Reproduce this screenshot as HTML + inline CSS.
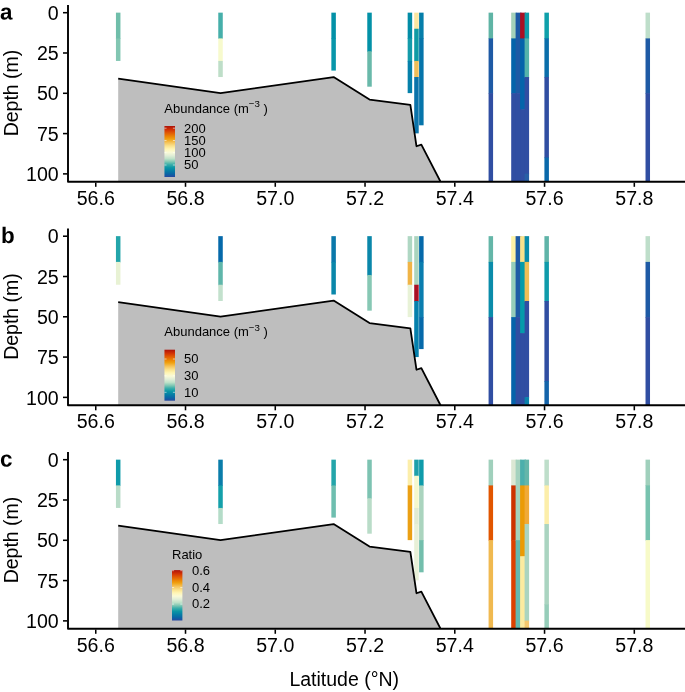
<!DOCTYPE html>
<html lang="en">
<head>
<meta charset="utf-8">
<title>Depth profiles by latitude</title>
<style>
html,body{margin:0;padding:0;background:#fff;}
svg{display:block;will-change:transform;}
text{font-family:"Liberation Sans",Arial,Helvetica,sans-serif;fill:#000;}
.ax{font-size:19.6px;}
.lg{font-size:13.0px;}
.pl{font-size:22.4px;font-weight:bold;}
</style>
</head>
<body>
<svg width="685" height="692" viewBox="0 0 685 692">
<defs>
<linearGradient id="cb" x1="0" y1="1" x2="0" y2="0">
<stop offset="0.000" stop-color="#2648a0"/>
<stop offset="0.056" stop-color="#0a64a5"/>
<stop offset="0.119" stop-color="#057da5"/>
<stop offset="0.183" stop-color="#0a96a5"/>
<stop offset="0.246" stop-color="#3cafaa"/>
<stop offset="0.300" stop-color="#82c8b4"/>
<stop offset="0.357" stop-color="#bee1c8"/>
<stop offset="0.420" stop-color="#e1eed7"/>
<stop offset="0.484" stop-color="#fafad7"/>
<stop offset="0.548" stop-color="#fff5b4"/>
<stop offset="0.611" stop-color="#fae18c"/>
<stop offset="0.675" stop-color="#f5c35a"/>
<stop offset="0.746" stop-color="#f0a00f"/>
<stop offset="0.800" stop-color="#eb8205"/>
<stop offset="0.865" stop-color="#e15a05"/>
<stop offset="0.929" stop-color="#d23205"/>
<stop offset="1.000" stop-color="#ac120a"/>
</linearGradient>
<clipPath id="cp0"><rect x="68.00" y="5.10" width="617.00" height="176.60"/></clipPath>
<clipPath id="cp1"><rect x="68.00" y="228.60" width="617.00" height="176.60"/></clipPath>
<clipPath id="cp2"><rect x="68.00" y="452.10" width="617.00" height="176.60"/></clipPath>
</defs>
<rect width="685" height="692" fill="#fff"/>
<g id="panel-a">
<g clip-path="url(#cp0)" shape-rendering="auto">
<rect x="115.94" y="12.65" width="4.50" height="26.35" fill="#70beaa"/>
<rect x="115.94" y="38.40" width="4.50" height="22.53" fill="#82c6b2"/>
<rect x="218.27" y="12.65" width="4.50" height="26.35" fill="#46afaa"/>
<rect x="218.27" y="38.40" width="4.50" height="23.13" fill="#f7facd"/>
<rect x="218.27" y="60.93" width="4.50" height="16.10" fill="#bedec8"/>
<rect x="331.36" y="12.65" width="4.50" height="26.35" fill="#0391a7"/>
<rect x="331.36" y="38.40" width="4.50" height="32.19" fill="#0896aa"/>
<rect x="367.27" y="12.65" width="4.50" height="39.23" fill="#0391a7"/>
<rect x="367.27" y="51.28" width="4.50" height="35.41" fill="#69b9aa"/>
<rect x="407.66" y="12.65" width="4.50" height="26.35" fill="#028ca6"/>
<rect x="407.66" y="38.40" width="4.50" height="23.13" fill="#149baa"/>
<rect x="407.66" y="60.93" width="4.50" height="32.19" fill="#0580aa"/>
<rect x="414.21" y="12.65" width="4.50" height="16.70" fill="#fae6a0"/>
<rect x="414.21" y="28.74" width="4.50" height="32.79" fill="#0f9ba5"/>
<rect x="414.21" y="60.93" width="4.50" height="16.70" fill="#f0be5a"/>
<rect x="414.21" y="77.03" width="4.50" height="56.33" fill="#0a73aa"/>
<rect x="419.10" y="12.65" width="4.50" height="26.35" fill="#057eaa"/>
<rect x="419.10" y="38.40" width="4.50" height="86.91" fill="#0574aa"/>
<rect x="488.58" y="12.65" width="4.50" height="26.35" fill="#5fb4a5"/>
<rect x="488.58" y="38.40" width="4.50" height="55.32" fill="#1e5aa5"/>
<rect x="488.58" y="93.12" width="4.50" height="112.66" fill="#304ea2"/>
<rect x="511.20" y="12.65" width="5.80" height="26.35" fill="#a5d2b9"/>
<rect x="511.20" y="38.40" width="5.80" height="55.32" fill="#0564aa"/>
<rect x="511.20" y="93.12" width="5.80" height="112.66" fill="#304ea2"/>
<rect x="515.60" y="12.65" width="5.90" height="81.07" fill="#1e5aa5"/>
<rect x="515.60" y="93.12" width="5.90" height="112.66" fill="#304ea2"/>
<rect x="520.10" y="12.65" width="5.90" height="26.35" fill="#aa0f23"/>
<rect x="520.10" y="38.40" width="5.90" height="71.42" fill="#0564aa"/>
<rect x="520.10" y="109.22" width="5.90" height="96.57" fill="#304ea2"/>
<rect x="524.60" y="12.65" width="4.50" height="26.35" fill="#0f9baa"/>
<rect x="524.60" y="38.40" width="4.50" height="39.23" fill="#55b4aa"/>
<rect x="524.60" y="77.03" width="4.50" height="97.17" fill="#304ea2"/>
<rect x="524.60" y="173.60" width="4.50" height="32.19" fill="#285fa5"/>
<rect x="544.41" y="12.65" width="4.50" height="26.35" fill="#0fa0aa"/>
<rect x="544.41" y="38.40" width="4.50" height="39.23" fill="#0a6eaa"/>
<rect x="544.41" y="77.03" width="4.50" height="81.07" fill="#304ea2"/>
<rect x="544.41" y="157.50" width="4.50" height="48.28" fill="#0a69aa"/>
<rect x="645.52" y="12.65" width="4.50" height="26.35" fill="#bedeca"/>
<rect x="645.52" y="38.40" width="4.50" height="55.32" fill="#1e5aa5"/>
<rect x="645.52" y="93.12" width="4.50" height="112.66" fill="#304ea2"/>
<polygon points="118.19,78.64 220.52,93.12 333.61,77.03 369.52,99.56 410.36,104.95 416.46,146.24 421.35,144.63 440.65,181.97 440.65,186.70 118.19,186.70" fill="#bebebe"/>
<polyline points="118.19,78.64 220.52,93.12 333.61,77.03 369.52,99.56 410.36,104.95 416.46,146.24 421.35,144.63 440.65,181.97" fill="none" stroke="#000" stroke-width="1.8" stroke-linejoin="round"/>
</g>
<polyline points="68.00,5.10 68.00,181.70 687.00,181.70" fill="none" stroke="#000" stroke-width="1.9" stroke-linejoin="round"/>
<line x1="63" y1="12.70" x2="67.2" y2="12.70" stroke="#000" stroke-width="1.55"/>
<text class="ax" x="58.7" y="19.90" text-anchor="end">0</text>
<line x1="63" y1="52.99" x2="67.2" y2="52.99" stroke="#000" stroke-width="1.55"/>
<text class="ax" x="58.7" y="60.19" text-anchor="end">25</text>
<line x1="63" y1="93.29" x2="67.2" y2="93.29" stroke="#000" stroke-width="1.55"/>
<text class="ax" x="58.7" y="100.49" text-anchor="end">50</text>
<line x1="63" y1="133.59" x2="67.2" y2="133.59" stroke="#000" stroke-width="1.55"/>
<text class="ax" x="58.7" y="140.78" text-anchor="end">75</text>
<line x1="63" y1="173.88" x2="67.2" y2="173.88" stroke="#000" stroke-width="1.55"/>
<text class="ax" x="58.7" y="181.08" text-anchor="end">100</text>
<line x1="95.75" y1="182.60" x2="95.75" y2="186.80" stroke="#000" stroke-width="1.55"/>
<text class="ax" x="95.75" y="204.80" text-anchor="middle">56.6</text>
<line x1="185.51" y1="182.60" x2="185.51" y2="186.80" stroke="#000" stroke-width="1.55"/>
<text class="ax" x="185.51" y="204.80" text-anchor="middle">56.8</text>
<line x1="275.27" y1="182.60" x2="275.27" y2="186.80" stroke="#000" stroke-width="1.55"/>
<text class="ax" x="275.27" y="204.80" text-anchor="middle">57.0</text>
<line x1="365.03" y1="182.60" x2="365.03" y2="186.80" stroke="#000" stroke-width="1.55"/>
<text class="ax" x="365.03" y="204.80" text-anchor="middle">57.2</text>
<line x1="454.79" y1="182.60" x2="454.79" y2="186.80" stroke="#000" stroke-width="1.55"/>
<text class="ax" x="454.79" y="204.80" text-anchor="middle">57.4</text>
<line x1="544.55" y1="182.60" x2="544.55" y2="186.80" stroke="#000" stroke-width="1.55"/>
<text class="ax" x="544.55" y="204.80" text-anchor="middle">57.6</text>
<line x1="634.31" y1="182.60" x2="634.31" y2="186.80" stroke="#000" stroke-width="1.55"/>
<text class="ax" x="634.31" y="204.80" text-anchor="middle">57.8</text>
<text class="ax" style="font-size:19.5px" transform="translate(18.2,93.00) rotate(-90)" text-anchor="middle">Depth (m)</text>
<text class="pl" transform="translate(0.00,19.55) rotate(0.03)">a</text>
<text class="lg" x="164.30" y="112.50">Abundance (m<tspan dy="-5.5" font-size="9.7">−3</tspan><tspan dy="5.5"> )</tspan></text>
<rect x="164.45" y="126.00" width="10.55" height="51.00" fill="url(#cb)"/>
<line x1="164.45" y1="128.20" x2="166.55" y2="128.20" stroke="#fff" stroke-opacity="0.8" stroke-width="0.7"/>
<line x1="172.90" y1="128.20" x2="175.00" y2="128.20" stroke="#fff" stroke-opacity="0.8" stroke-width="0.7"/>
<text class="lg" x="184.00" y="132.55">200</text>
<line x1="164.45" y1="140.50" x2="166.55" y2="140.50" stroke="#fff" stroke-opacity="0.8" stroke-width="0.7"/>
<line x1="172.90" y1="140.50" x2="175.00" y2="140.50" stroke="#fff" stroke-opacity="0.8" stroke-width="0.7"/>
<text class="lg" x="184.00" y="144.85">150</text>
<line x1="164.45" y1="152.70" x2="166.55" y2="152.70" stroke="#fff" stroke-opacity="0.8" stroke-width="0.7"/>
<line x1="172.90" y1="152.70" x2="175.00" y2="152.70" stroke="#fff" stroke-opacity="0.8" stroke-width="0.7"/>
<text class="lg" x="184.00" y="157.05">100</text>
<line x1="164.45" y1="165.00" x2="166.55" y2="165.00" stroke="#fff" stroke-opacity="0.8" stroke-width="0.7"/>
<line x1="172.90" y1="165.00" x2="175.00" y2="165.00" stroke="#fff" stroke-opacity="0.8" stroke-width="0.7"/>
<text class="lg" x="184.00" y="169.35">50</text>
</g>
<g id="panel-b">
<g clip-path="url(#cp1)" shape-rendering="auto">
<rect x="115.94" y="236.15" width="4.50" height="26.35" fill="#23a5aa"/>
<rect x="115.94" y="261.90" width="4.50" height="22.83" fill="#e8f2d4"/>
<rect x="218.27" y="236.15" width="4.50" height="26.35" fill="#0569aa"/>
<rect x="218.27" y="261.90" width="4.50" height="23.43" fill="#5fb6aa"/>
<rect x="218.27" y="284.74" width="4.50" height="16.26" fill="#c3e1cd"/>
<rect x="331.36" y="236.15" width="4.50" height="26.35" fill="#0a78aa"/>
<rect x="331.36" y="261.90" width="4.50" height="32.59" fill="#0a87aa"/>
<rect x="367.27" y="236.15" width="4.50" height="39.43" fill="#0a87aa"/>
<rect x="367.27" y="274.98" width="4.50" height="35.68" fill="#87c8b4"/>
<rect x="407.66" y="236.15" width="4.50" height="26.35" fill="#afd7c3"/>
<rect x="407.66" y="261.90" width="4.50" height="23.43" fill="#f0b446"/>
<rect x="407.66" y="284.74" width="4.50" height="32.36" fill="#e8f2d7"/>
<rect x="414.21" y="236.15" width="4.50" height="49.19" fill="#aad4be"/>
<rect x="414.21" y="284.74" width="4.50" height="16.86" fill="#aa0f23"/>
<rect x="414.21" y="301.00" width="4.50" height="56.06" fill="#0580ac"/>
<rect x="419.10" y="236.15" width="4.50" height="26.35" fill="#0569aa"/>
<rect x="419.10" y="261.90" width="4.50" height="55.79" fill="#0a7daf"/>
<rect x="419.10" y="317.10" width="4.50" height="31.99" fill="#0569aa"/>
<rect x="488.58" y="236.15" width="4.50" height="26.35" fill="#64b6a8"/>
<rect x="488.58" y="261.90" width="4.50" height="55.79" fill="#0a8caa"/>
<rect x="488.58" y="317.10" width="4.50" height="112.19" fill="#304ea2"/>
<rect x="511.20" y="236.15" width="5.80" height="26.35" fill="#fdf3a5"/>
<rect x="511.20" y="261.90" width="5.80" height="55.79" fill="#96cdb9"/>
<rect x="511.20" y="317.10" width="5.80" height="112.19" fill="#0564aa"/>
<rect x="515.60" y="236.15" width="5.90" height="81.55" fill="#1e5aa5"/>
<rect x="515.60" y="317.10" width="5.90" height="112.19" fill="#304ea2"/>
<rect x="520.10" y="236.15" width="5.90" height="26.35" fill="#fae18c"/>
<rect x="520.10" y="261.90" width="5.90" height="71.82" fill="#059baa"/>
<rect x="520.10" y="333.12" width="5.90" height="96.17" fill="#304ea2"/>
<rect x="524.60" y="236.15" width="4.50" height="26.35" fill="#0a8caa"/>
<rect x="524.60" y="261.90" width="4.50" height="39.70" fill="#f0be55"/>
<rect x="524.60" y="301.00" width="4.50" height="96.70" fill="#304ea2"/>
<rect x="524.60" y="397.10" width="4.50" height="32.19" fill="#0a82aa"/>
<rect x="544.41" y="236.15" width="4.50" height="26.35" fill="#5fb4a8"/>
<rect x="544.41" y="261.90" width="4.50" height="39.70" fill="#0f9baa"/>
<rect x="544.41" y="301.00" width="4.50" height="80.60" fill="#304ea2"/>
<rect x="544.41" y="381.00" width="4.50" height="48.28" fill="#1464aa"/>
<rect x="645.52" y="236.15" width="4.50" height="26.35" fill="#bedeca"/>
<rect x="645.52" y="261.90" width="4.50" height="55.79" fill="#1e5aa5"/>
<rect x="645.52" y="317.10" width="4.50" height="112.19" fill="#304ea2"/>
<polygon points="118.19,302.14 220.52,316.62 333.61,300.53 369.52,323.06 410.36,328.45 416.46,369.74 421.35,368.13 440.65,405.47 440.65,410.20 118.19,410.20" fill="#bebebe"/>
<polyline points="118.19,302.14 220.52,316.62 333.61,300.53 369.52,323.06 410.36,328.45 416.46,369.74 421.35,368.13 440.65,405.47" fill="none" stroke="#000" stroke-width="1.8" stroke-linejoin="round"/>
</g>
<polyline points="68.00,228.60 68.00,405.20 687.00,405.20" fill="none" stroke="#000" stroke-width="1.9" stroke-linejoin="round"/>
<line x1="63" y1="236.20" x2="67.2" y2="236.20" stroke="#000" stroke-width="1.55"/>
<text class="ax" x="58.7" y="243.40" text-anchor="end">0</text>
<line x1="63" y1="276.50" x2="67.2" y2="276.50" stroke="#000" stroke-width="1.55"/>
<text class="ax" x="58.7" y="283.69" text-anchor="end">25</text>
<line x1="63" y1="316.79" x2="67.2" y2="316.79" stroke="#000" stroke-width="1.55"/>
<text class="ax" x="58.7" y="323.99" text-anchor="end">50</text>
<line x1="63" y1="357.08" x2="67.2" y2="357.08" stroke="#000" stroke-width="1.55"/>
<text class="ax" x="58.7" y="364.28" text-anchor="end">75</text>
<line x1="63" y1="397.38" x2="67.2" y2="397.38" stroke="#000" stroke-width="1.55"/>
<text class="ax" x="58.7" y="404.58" text-anchor="end">100</text>
<line x1="95.75" y1="406.10" x2="95.75" y2="410.30" stroke="#000" stroke-width="1.55"/>
<text class="ax" x="95.75" y="428.30" text-anchor="middle">56.6</text>
<line x1="185.51" y1="406.10" x2="185.51" y2="410.30" stroke="#000" stroke-width="1.55"/>
<text class="ax" x="185.51" y="428.30" text-anchor="middle">56.8</text>
<line x1="275.27" y1="406.10" x2="275.27" y2="410.30" stroke="#000" stroke-width="1.55"/>
<text class="ax" x="275.27" y="428.30" text-anchor="middle">57.0</text>
<line x1="365.03" y1="406.10" x2="365.03" y2="410.30" stroke="#000" stroke-width="1.55"/>
<text class="ax" x="365.03" y="428.30" text-anchor="middle">57.2</text>
<line x1="454.79" y1="406.10" x2="454.79" y2="410.30" stroke="#000" stroke-width="1.55"/>
<text class="ax" x="454.79" y="428.30" text-anchor="middle">57.4</text>
<line x1="544.55" y1="406.10" x2="544.55" y2="410.30" stroke="#000" stroke-width="1.55"/>
<text class="ax" x="544.55" y="428.30" text-anchor="middle">57.6</text>
<line x1="634.31" y1="406.10" x2="634.31" y2="410.30" stroke="#000" stroke-width="1.55"/>
<text class="ax" x="634.31" y="428.30" text-anchor="middle">57.8</text>
<text class="ax" style="font-size:19.5px" transform="translate(18.2,316.50) rotate(-90)" text-anchor="middle">Depth (m)</text>
<text class="pl" transform="translate(0.90,243.10) rotate(0.03)">b</text>
<text class="lg" x="164.30" y="336.10">Abundance (m<tspan dy="-5.5" font-size="9.7">−3</tspan><tspan dy="5.5"> )</tspan></text>
<rect x="164.45" y="349.70" width="10.55" height="51.00" fill="url(#cb)"/>
<line x1="164.45" y1="359.00" x2="166.55" y2="359.00" stroke="#fff" stroke-opacity="0.8" stroke-width="0.7"/>
<line x1="172.90" y1="359.00" x2="175.00" y2="359.00" stroke="#fff" stroke-opacity="0.8" stroke-width="0.7"/>
<text class="lg" x="184.00" y="363.35">50</text>
<line x1="164.45" y1="375.80" x2="166.55" y2="375.80" stroke="#fff" stroke-opacity="0.8" stroke-width="0.7"/>
<line x1="172.90" y1="375.80" x2="175.00" y2="375.80" stroke="#fff" stroke-opacity="0.8" stroke-width="0.7"/>
<text class="lg" x="184.00" y="380.15">30</text>
<line x1="164.45" y1="392.30" x2="166.55" y2="392.30" stroke="#fff" stroke-opacity="0.8" stroke-width="0.7"/>
<line x1="172.90" y1="392.30" x2="175.00" y2="392.30" stroke="#fff" stroke-opacity="0.8" stroke-width="0.7"/>
<text class="lg" x="184.00" y="396.65">10</text>
</g>
<g id="panel-c">
<g clip-path="url(#cp2)" shape-rendering="auto">
<rect x="115.94" y="459.65" width="4.50" height="26.35" fill="#0f9baa"/>
<rect x="115.94" y="485.40" width="4.50" height="22.53" fill="#b9dcc8"/>
<rect x="218.27" y="459.65" width="4.50" height="26.35" fill="#0a7daa"/>
<rect x="218.27" y="485.40" width="4.50" height="23.13" fill="#14a0aa"/>
<rect x="218.27" y="507.94" width="4.50" height="16.09" fill="#b4dcc8"/>
<rect x="331.36" y="459.65" width="4.50" height="26.35" fill="#23a5aa"/>
<rect x="331.36" y="485.40" width="4.50" height="32.19" fill="#6ebeaf"/>
<rect x="367.27" y="459.65" width="4.50" height="39.23" fill="#7dc3b2"/>
<rect x="367.27" y="498.28" width="4.50" height="35.41" fill="#b9dcc8"/>
<rect x="407.66" y="459.65" width="4.50" height="26.35" fill="#fceeaa"/>
<rect x="407.66" y="485.40" width="4.50" height="54.72" fill="#eba014"/>
<rect x="414.21" y="459.65" width="4.50" height="16.70" fill="#1ea0aa"/>
<rect x="414.21" y="475.75" width="4.50" height="32.79" fill="#f5f8cd"/>
<rect x="414.21" y="507.94" width="4.50" height="16.69" fill="#e1ebd2"/>
<rect x="414.21" y="524.03" width="4.50" height="56.33" fill="#e8f0d7"/>
<rect x="419.10" y="459.65" width="4.50" height="26.35" fill="#0f9baa"/>
<rect x="419.10" y="485.40" width="4.50" height="55.32" fill="#aad4be"/>
<rect x="419.10" y="540.12" width="4.50" height="32.19" fill="#73beac"/>
<rect x="488.58" y="459.65" width="4.50" height="26.35" fill="#a0d0bc"/>
<rect x="488.58" y="485.40" width="4.50" height="55.32" fill="#e15500"/>
<rect x="488.58" y="540.12" width="4.50" height="112.66" fill="#f0b950"/>
<rect x="511.20" y="459.65" width="5.80" height="26.35" fill="#dce8d4"/>
<rect x="511.20" y="485.40" width="5.80" height="55.32" fill="#cd3200"/>
<rect x="511.20" y="540.12" width="5.80" height="112.66" fill="#dc4100"/>
<rect x="515.60" y="459.65" width="5.90" height="81.08" fill="#a5d2be"/>
<rect x="515.60" y="540.12" width="5.90" height="112.66" fill="#64b9af"/>
<rect x="520.10" y="459.65" width="5.90" height="26.35" fill="#4bafac"/>
<rect x="520.10" y="485.40" width="5.90" height="71.42" fill="#eb9b05"/>
<rect x="520.10" y="556.22" width="5.90" height="96.57" fill="#fceba0"/>
<rect x="524.60" y="459.65" width="4.50" height="26.35" fill="#64b6aa"/>
<rect x="524.60" y="485.40" width="4.50" height="39.23" fill="#f0aa37"/>
<rect x="524.60" y="524.03" width="4.50" height="97.17" fill="#aad4c0"/>
<rect x="524.60" y="620.60" width="4.50" height="32.19" fill="#f5c86e"/>
<rect x="544.41" y="459.65" width="4.50" height="26.35" fill="#bedeca"/>
<rect x="544.41" y="485.40" width="4.50" height="39.23" fill="#fceeaa"/>
<rect x="544.41" y="524.03" width="4.50" height="81.08" fill="#aad4c0"/>
<rect x="544.41" y="604.50" width="4.50" height="48.28" fill="#96cdb9"/>
<rect x="645.52" y="459.65" width="4.50" height="26.35" fill="#a0d0bc"/>
<rect x="645.52" y="485.40" width="4.50" height="55.32" fill="#78c3af"/>
<rect x="645.52" y="540.12" width="4.50" height="112.66" fill="#f7fac8"/>
<polygon points="118.19,525.64 220.52,540.12 333.61,524.03 369.52,546.56 410.36,551.95 416.46,593.24 421.35,591.63 440.65,628.97 440.65,633.70 118.19,633.70" fill="#bebebe"/>
<polyline points="118.19,525.64 220.52,540.12 333.61,524.03 369.52,546.56 410.36,551.95 416.46,593.24 421.35,591.63 440.65,628.97" fill="none" stroke="#000" stroke-width="1.8" stroke-linejoin="round"/>
</g>
<polyline points="68.00,452.10 68.00,628.70 687.00,628.70" fill="none" stroke="#000" stroke-width="1.9" stroke-linejoin="round"/>
<line x1="63" y1="459.70" x2="67.2" y2="459.70" stroke="#000" stroke-width="1.55"/>
<text class="ax" x="58.7" y="466.90" text-anchor="end">0</text>
<line x1="63" y1="500.00" x2="67.2" y2="500.00" stroke="#000" stroke-width="1.55"/>
<text class="ax" x="58.7" y="507.19" text-anchor="end">25</text>
<line x1="63" y1="540.29" x2="67.2" y2="540.29" stroke="#000" stroke-width="1.55"/>
<text class="ax" x="58.7" y="547.49" text-anchor="end">50</text>
<line x1="63" y1="580.58" x2="67.2" y2="580.58" stroke="#000" stroke-width="1.55"/>
<text class="ax" x="58.7" y="587.78" text-anchor="end">75</text>
<line x1="63" y1="620.88" x2="67.2" y2="620.88" stroke="#000" stroke-width="1.55"/>
<text class="ax" x="58.7" y="628.08" text-anchor="end">100</text>
<line x1="95.75" y1="629.60" x2="95.75" y2="633.80" stroke="#000" stroke-width="1.55"/>
<text class="ax" x="95.75" y="651.80" text-anchor="middle">56.6</text>
<line x1="185.51" y1="629.60" x2="185.51" y2="633.80" stroke="#000" stroke-width="1.55"/>
<text class="ax" x="185.51" y="651.80" text-anchor="middle">56.8</text>
<line x1="275.27" y1="629.60" x2="275.27" y2="633.80" stroke="#000" stroke-width="1.55"/>
<text class="ax" x="275.27" y="651.80" text-anchor="middle">57.0</text>
<line x1="365.03" y1="629.60" x2="365.03" y2="633.80" stroke="#000" stroke-width="1.55"/>
<text class="ax" x="365.03" y="651.80" text-anchor="middle">57.2</text>
<line x1="454.79" y1="629.60" x2="454.79" y2="633.80" stroke="#000" stroke-width="1.55"/>
<text class="ax" x="454.79" y="651.80" text-anchor="middle">57.4</text>
<line x1="544.55" y1="629.60" x2="544.55" y2="633.80" stroke="#000" stroke-width="1.55"/>
<text class="ax" x="544.55" y="651.80" text-anchor="middle">57.6</text>
<line x1="634.31" y1="629.60" x2="634.31" y2="633.80" stroke="#000" stroke-width="1.55"/>
<text class="ax" x="634.31" y="651.80" text-anchor="middle">57.8</text>
<text class="ax" style="font-size:19.5px" transform="translate(18.2,540.00) rotate(-90)" text-anchor="middle">Depth (m)</text>
<text class="pl" transform="translate(0.00,466.45) rotate(0.03)">c</text>
<text class="lg" x="172.00" y="558.50">Ratio</text>
<rect x="172.00" y="570.10" width="10.40" height="50.40" fill="url(#cb)"/>
<line x1="172.00" y1="570.70" x2="174.10" y2="570.70" stroke="#fff" stroke-opacity="0.8" stroke-width="0.7"/>
<line x1="180.30" y1="570.70" x2="182.40" y2="570.70" stroke="#fff" stroke-opacity="0.8" stroke-width="0.7"/>
<text class="lg" x="192.00" y="575.05">0.6</text>
<line x1="172.00" y1="587.50" x2="174.10" y2="587.50" stroke="#fff" stroke-opacity="0.8" stroke-width="0.7"/>
<line x1="180.30" y1="587.50" x2="182.40" y2="587.50" stroke="#fff" stroke-opacity="0.8" stroke-width="0.7"/>
<text class="lg" x="192.00" y="591.85">0.4</text>
<line x1="172.00" y1="604.10" x2="174.10" y2="604.10" stroke="#fff" stroke-opacity="0.8" stroke-width="0.7"/>
<line x1="180.30" y1="604.10" x2="182.40" y2="604.10" stroke="#fff" stroke-opacity="0.8" stroke-width="0.7"/>
<text class="lg" x="192.00" y="608.45">0.2</text>
</g>
<text class="ax" style="font-size:19.5px" x="344.25" y="685.5" text-anchor="middle">Latitude (°N)</text>
</svg>
</body>
</html>
